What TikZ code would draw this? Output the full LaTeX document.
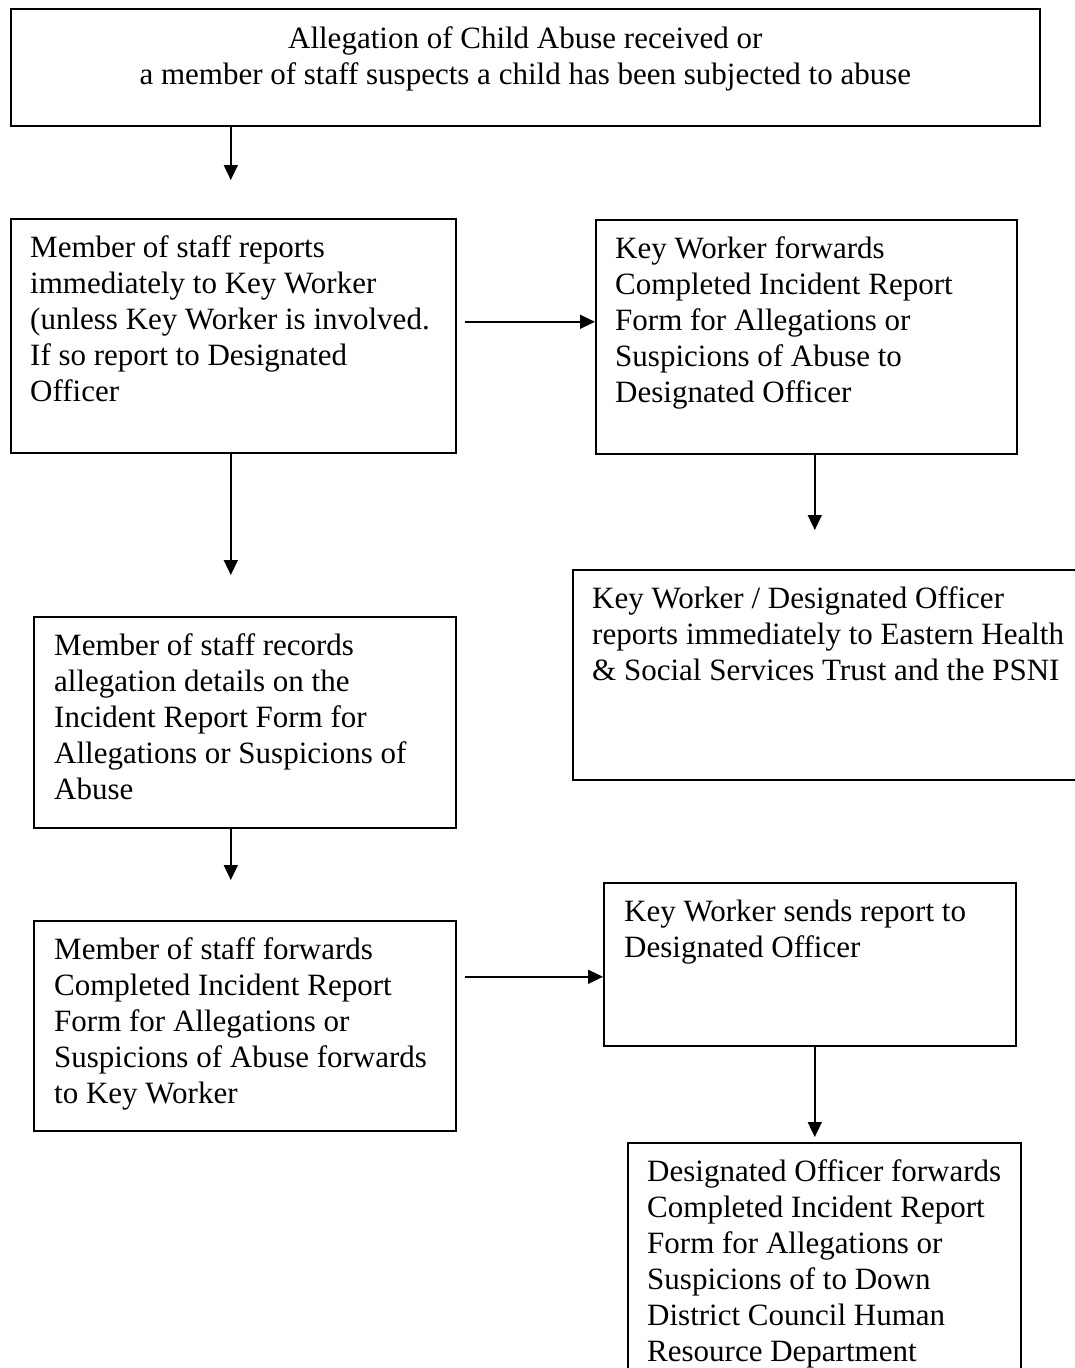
\documentclass[tikz,border=0pt]{standalone}
\usepackage{fontspec}
\setmainfont{Liberation Serif}
\usetikzlibrary{arrows.meta}

\begin{document}
\begin{tikzpicture}[x=1pt,y=-1pt,
    stepbox/.style={draw, line width=1.6pt, anchor=north west, inner sep=0pt},
    plaintext/.style={inner sep=0pt, font=\fontsize{31}{36}\selectfont,
      execute at begin node={\spaceskip=0pt \xspaceskip=0pt}},
    steptext/.style={plaintext, anchor=base west, align=left, text width=600pt},
    flow/.style={line width=1.6pt, -{Triangle[width=14pt,length=15pt]}}]
    \useasboundingbox (0,0) rectangle (1074,1368);
    %% boxes
    \node[stepbox, minimum width=1029pt, minimum height=117pt] (top) at (10,8) {};
    \node[stepbox, minimum width=445pt, minimum height=234pt] (l1) at (10,218) {};
    \node[stepbox, minimum width=421pt, minimum height=234pt] (r1) at (595,219) {};
    \node[stepbox, minimum width=520pt, minimum height=210pt] (r2) at (572,569) {};
    \node[stepbox, minimum width=422pt, minimum height=211pt] (l2) at (33,616) {};
    \node[stepbox, minimum width=412pt, minimum height=163pt] (r3) at (603,882) {};
    \node[stepbox, minimum width=422pt, minimum height=210pt] (l3) at (33,920) {};
    \node[stepbox, minimum width=393pt, minimum height=250pt] (r4) at (627,1142) {};
    %% texts (centred lines: base is the last line)
    \node[plaintext, anchor=base, align=center] (topt)
      at ([yshift=-76pt]top.north) {Allegation of Child Abuse received or\\
      a member of staff suspects a child has been subjected to abuse};
    \node[steptext] (l1t) at ([xshift=20pt,yshift=-39pt]l1.north west)
      {Member of staff reports\\ immediately to Key Worker\\ (unless Key Worker is involved.\\
      If so report to Designated\\ Officer};
    \node[steptext] (r1t) at ([xshift=20pt,yshift=-39pt]r1.north west)
      {Key Worker forwards\\ Completed Incident Report\\ Form for Allegations or\\
      Suspicions of Abuse to\\ Designated Officer};
    \node[steptext] (r2t) at ([xshift=20pt,yshift=-39pt]r2.north west)
      {Key Worker / Designated Officer\\ reports immediately to Eastern Health\\
      \& Social Services Trust and the PSNI};
    \node[steptext] (l2t) at ([xshift=21pt,yshift=-39pt]l2.north west)
      {Member of staff records\\ allegation details on the\\ Incident Report Form for\\
      Allegations or Suspicions of\\ Abuse};
    \node[steptext] (r3t) at ([xshift=21pt,yshift=-39pt]r3.north west)
      {Key Worker sends report to\\ Designated Officer};
    \node[steptext] (l3t) at ([xshift=21pt,yshift=-39pt]l3.north west)
      {Member of staff forwards\\ Completed Incident Report\\ Form for Allegations or\\
      Suspicions of Abuse forwards\\ to Key Worker};
    \node[steptext] (r4t) at ([xshift=20pt,yshift=-39pt]r4.north west)
      {Designated Officer forwards\\ Completed Incident Report\\ Form for Allegations or\\
      Suspicions of to Down\\ District Council Human\\ Resource Department};
    %% arrows
    \draw[flow, shorten >=38pt] ([xshift=-2.5pt]l1.north |- top.south) -- ([xshift=-2.5pt]l1.north);
    \draw[flow, shorten <=8pt] ([yshift=14pt]l1.east) -- ([yshift=14pt]l1.east -| r1.west);
    \draw[flow, shorten >=41pt] ([xshift=-2.5pt]l1.south) -- ([xshift=-2.5pt]l1.south |- l2.north);
    \draw[flow, shorten >=39pt] ([xshift=8.5pt]r1.south) -- ([xshift=8.5pt]r1.south |- r2.north);
    \draw[flow, shorten >=40pt] ([xshift=-14pt]l2.south) -- ([xshift=-14pt]l2.south |- l3.north);
    \draw[flow, shorten <=8pt] ([yshift=49pt]l3.east) -- ([yshift=49pt]l3.east -| r3.west);
    \draw[flow, shorten >=5pt] ([xshift=5pt]r3.south) -- ([xshift=5pt]r3.south |- r4.north);
\end{tikzpicture}
\end{document}
